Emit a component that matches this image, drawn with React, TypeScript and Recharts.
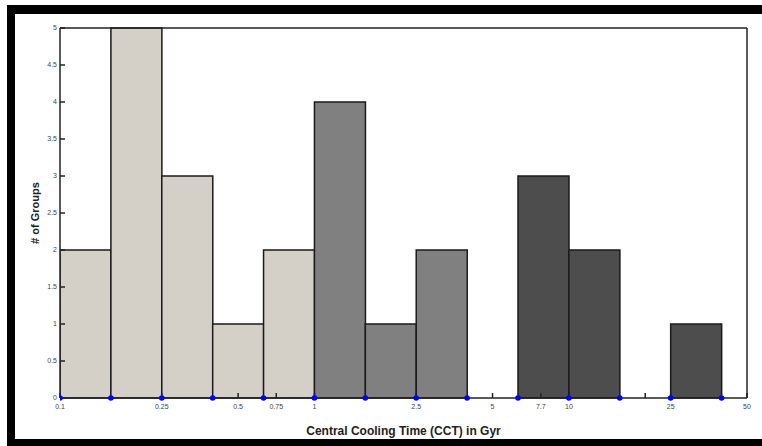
import React from 'react';
import {
  ComposedChart,
  Bar,
  Scatter,
  XAxis,
  YAxis,
  Cell,
  Label
} from 'recharts';

// histogram counts per bin (bins are equal width on the plotted axis)
const binCounts = [2, 5, 3, 1, 2, 4, 1, 2, 0, 3, 2, 0, 1];
// shade group of each bin
const binGroups = ['light', 'light', 'light', 'light', 'light', 'mid', 'mid', 'mid', 'dark', 'dark', 'dark', 'dark', 'dark'];
// bin edges marked with blue dots
const binEdges = [0, 1, 2, 3, 4, 5, 6, 7, 8, 9, 10, 11, 12, 13];

// x tick positions (in bin units) and their CCT labels
const xTickPos = [0, 2, 3.5, 4.25, 5, 7, 8.5, 9.45, 10, 11.5, 12, 13.5];
const xTickLabels = ['0.1', '0.25', '0.5', '0.75', '1', '2.5', '5', '7.7', '10', '', '25', '50'];
const yTicks = [0, 0.5, 1, 1.5, 2, 2.5, 3, 3.5, 4, 4.5, 5];

const GROUP_COLORS: Record<string, string> = {
  light: '#d4d0c8',
  mid: '#808080',
  dark: '#4d4d4d'
};

const barData = binCounts.map((count, i) => ({ x: i + 0.5, count, group: binGroups[i] }));
const edgeData = binEdges.map(e => ({ x: e, y: 0 }));

const tickFmt = (v: number) => {
  const i = xTickPos.indexOf(v);
  return i >= 0 ? xTickLabels[i] : '';
};

const tickStyle = { fontSize: 7, fill: '#444', fontFamily: 'Liberation Sans, Arial, sans-serif' };
const labelStyle = { fontSize: 12, fontWeight: 'bold' as const, fill: '#222', fontFamily: 'Liberation Sans, Arial, sans-serif' };

export default function App() {
  return (
    <div style={{ position: 'absolute', left: 0, top: 0, width: 762, height: 446, background: '#fff' }}>
      {/* black frame */}
      <div style={{ position: 'absolute', left: 7, top: 5, width: 755, height: 9, background: '#000' }} />
      <div style={{ position: 'absolute', left: 7, top: 5, width: 8, height: 441, background: '#000' }} />
      <div style={{ position: 'absolute', left: 7, top: 439, width: 755, height: 7, background: '#000' }} />

      <div style={{ position: 'absolute', left: 0, top: 0 }}>
        <ComposedChart
          width={762}
          height={446}
          data={barData}
          margin={{ top: 27, right: 14, bottom: 28, left: 20 }}
          barCategoryGap={0}
          barGap={0}
        >
          {/* hidden bin axis: gives the bars one full bin of width */}
          <XAxis dataKey="x" type="number" domain={[0, 13.5]} ticks={binEdges} height={0} hide allowDataOverflow />
          <XAxis
            xAxisId="cct"
            dataKey="x"
            type="number"
            domain={[0, 13.5]}
            ticks={xTickPos}
            tickFormatter={tickFmt}
            interval={0}
            height={20}
            tickSize={-5}
            tickMargin={11}
            tick={tickStyle}
            stroke="#222"
            strokeWidth={1.5}
            allowDataOverflow
          >
            <Label value="Central Cooling Time (CCT) in Gyr" position="bottom" offset={8} style={labelStyle} />
          </XAxis>
          <XAxis
            xAxisId="top"
            orientation="top"
            type="number"
            dataKey="x"
            domain={[0, 13.5]}
            ticks={xTickPos}
            interval={0}
            height={1}
            tickSize={-5}
            tick={false}
            stroke="#222"
            strokeWidth={1.5}
          />
          <YAxis
            type="number"
            domain={[0, 5]}
            ticks={yTicks}
            interval={0}
            width={40}
            tickSize={-5}
            tickMargin={8}
            tick={tickStyle}
            stroke="#222"
            strokeWidth={1.5}
          >
            <Label value="# of Groups" angle={-90} position="insideLeft" offset={15} style={{ ...labelStyle, fontSize: 11, textAnchor: 'middle' }} />
          </YAxis>
          <YAxis
            yAxisId="right"
            orientation="right"
            type="number"
            domain={[0, 5]}
            ticks={yTicks}
            interval={0}
            width={1}
            tickSize={-5}
            tick={false}
            stroke="#222"
            strokeWidth={1.5}
          />
          <Bar dataKey="count" stroke="#1a1a1a" strokeWidth={1.5} isAnimationActive={false}>
            {barData.map((d, i) => (
              <Cell key={`bin-${i}`} fill={GROUP_COLORS[d.group]} />
            ))}
          </Bar>
          <Scatter
            xAxisId="cct"
            data={edgeData}
            dataKey="y"
            isAnimationActive={false}
            shape={(p: any) => <circle cx={p.cx} cy={p.cy} r={2.8} fill="#0000ff" />}
          />
        </ComposedChart>
      </div>
    </div>
  );
}
